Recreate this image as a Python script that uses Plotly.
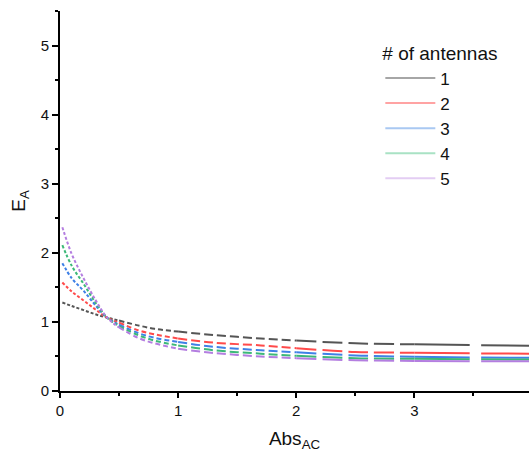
import plotly.graph_objects as go

abs_ac = [0.02, 0.1, 0.2, 0.3, 0.4, 0.5, 0.66, 0.8, 1.0, 1.3, 1.7, 2.0, 2.5, 3.0, 3.5, 4.0]
ea_1 = [1.28, 1.23, 1.17, 1.11, 1.06, 1.02, 0.95, 0.90, 0.86, 0.81, 0.76, 0.73, 0.69, 0.675, 0.665, 0.655]
ea_2 = [1.57, 1.44, 1.31, 1.18, 1.06, 0.99, 0.88, 0.82, 0.76, 0.70, 0.66, 0.62, 0.565, 0.555, 0.545, 0.54]
ea_3 = [1.85, 1.63, 1.45, 1.24, 1.06, 0.96, 0.84, 0.77, 0.71, 0.64, 0.59, 0.56, 0.515, 0.495, 0.485, 0.48]
ea_4 = [2.11, 1.81, 1.55, 1.28, 1.06, 0.94, 0.81, 0.73, 0.66, 0.59, 0.54, 0.51, 0.475, 0.465, 0.46, 0.455]
ea_5 = [2.37, 1.98, 1.63, 1.32, 1.06, 0.92, 0.77, 0.69, 0.61, 0.55, 0.50, 0.475, 0.445, 0.435, 0.43, 0.43]
series_names = ["1", "2", "3", "4", "5"]
series_values = [ea_1, ea_2, ea_3, ea_4, ea_5]

curve_colors = ["#555555", "#ff4a4a", "#3f80e6", "#3cb878", "#b47ee0"]
legend_colors = ["#a6a6a6", "#ffa3a3", "#a9c8f2", "#a9e2c4", "#e3cdf3"]

# index segments with growing dash lengths
segments = [(0, 5, "3px,2px"), (5, 8, "5px,3px"), (8, 11, "9px,4px"),
            (11, 13, "20px,6px"), (13, 15, "55px,12px")]

fig = go.Figure()
for name, vals, col in zip(series_names, series_values, curve_colors):
    for a, b, dash in segments:
        fig.add_trace(go.Scatter(
            x=abs_ac[a:b + 1], y=vals[a:b + 1], mode="lines",
            line=dict(color=col, width=2, dash=dash, shape="spline"),
            showlegend=False, hoverinfo="skip"))
for name, col in zip(series_names, legend_colors):
    fig.add_trace(go.Scatter(x=[None], y=[None], mode="lines", name=name,
                             line=dict(color=col, width=2)))

fig.update_layout(
    width=529, height=452,
    margin=dict(l=60, r=0, t=11, b=61),
    paper_bgcolor="white", plot_bgcolor="white",
    font=dict(family="Liberation Sans, Arial, sans-serif", color="#111111", size=15),
    legend=dict(title=dict(text="# of antennas", font=dict(size=19)),
                font=dict(size=17), x=0.683, y=0.935, xanchor="left", yanchor="top",
                bgcolor="rgba(0,0,0,0)", tracegroupgap=0, itemwidth=50),
    xaxis=dict(range=[0, 3.97], showline=True, linecolor="black", linewidth=2,
               ticks="outside", ticklen=5, tickwidth=1.5, tickcolor="black", dtick=1,
               minor=dict(ticks="outside", ticklen=3, dtick=0.5, tickcolor="black"),
               showgrid=False, zeroline=False,
               title=dict(text="Abs<sub>AC</sub>", font=dict(size=19), standoff=14)),
    yaxis=dict(range=[0, 5.5], showline=True, linecolor="black", linewidth=2,
               ticks="outside", ticklen=6, tickwidth=1.5, tickcolor="black", dtick=1,
               minor=dict(ticks="outside", ticklen=3, dtick=0.5, tickcolor="black"),
               showgrid=False, zeroline=False,
               title=dict(text="E<sub>A</sub>", font=dict(size=19), standoff=10)),
)
fig.write_html("out.html")
